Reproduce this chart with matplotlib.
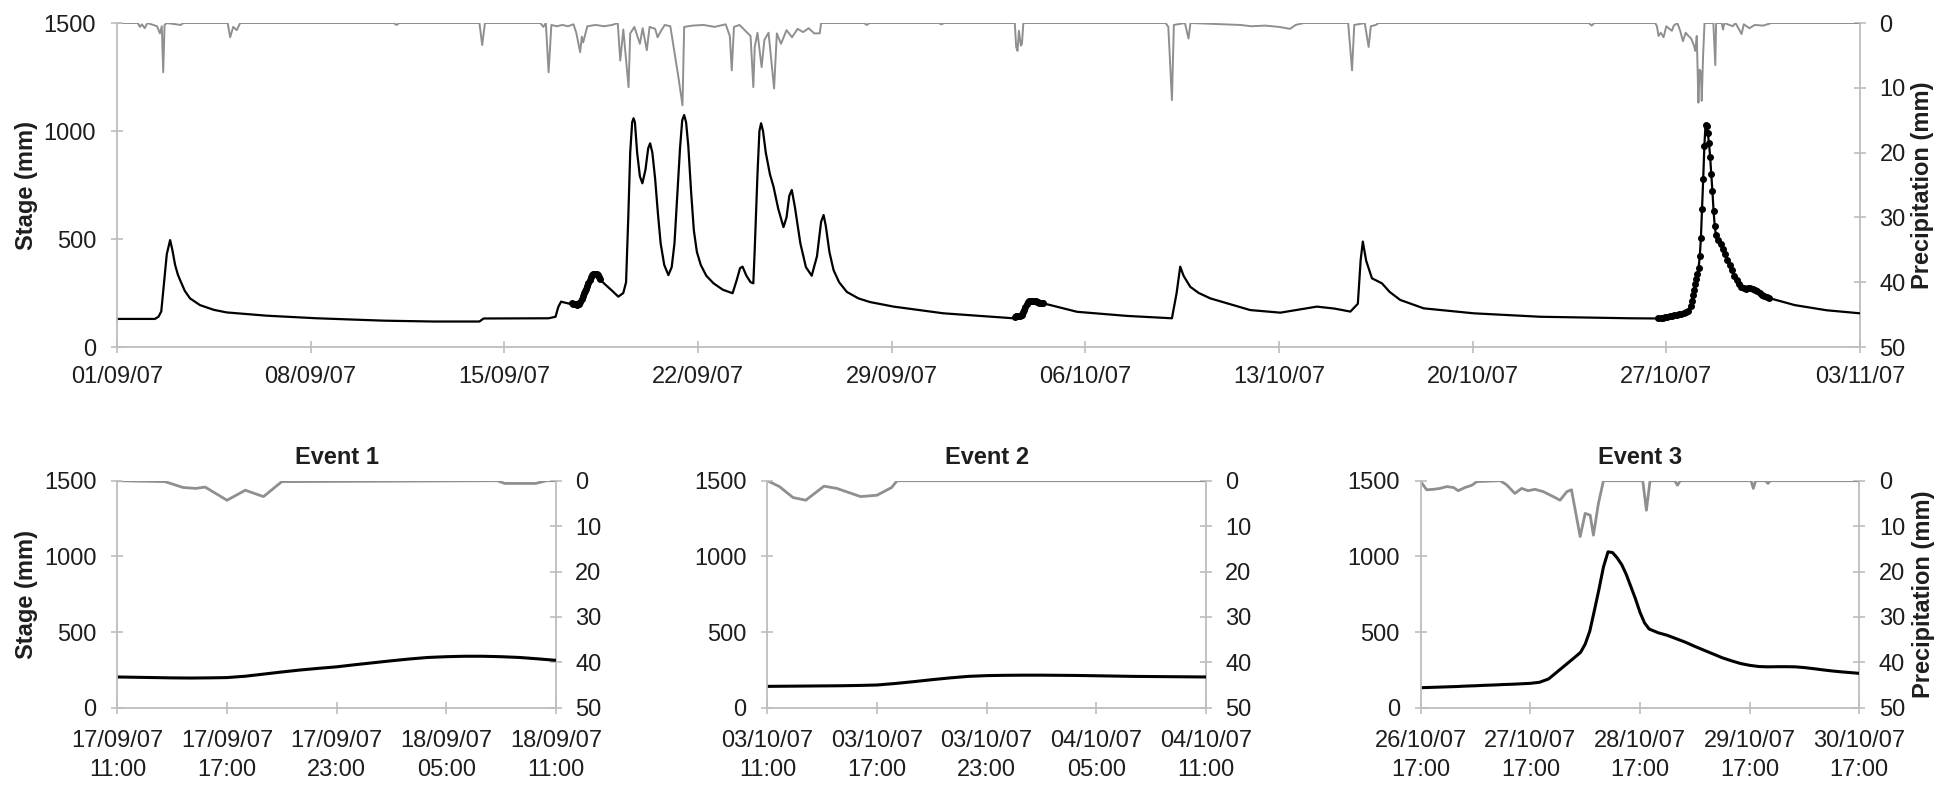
import matplotlib
matplotlib.use("Agg")
import matplotlib.pyplot as plt
import numpy as np

plt.rcParams['font.family'] = ['Liberation Sans', 'DejaVu Sans']

# ---------------- data ----------------
# main panel: time in days since 01/09/07 00:00
main_tick_days = [0, 7, 14, 21, 28, 35, 42, 49, 56, 63]
main_tick_labels = ['01/09/07', '08/09/07', '15/09/07', '22/09/07', '29/09/07',
                    '06/10/07', '13/10/07', '20/10/07', '27/10/07', '03/11/07']

stage_day = [0, 1.37, 1.5, 1.6, 1.7, 1.8, 1.92, 2.0, 2.1, 2.2, 2.28, 2.45, 2.64, 3.0, 3.5,
             3.97, 5.41, 7.22, 9.63, 11.43, 12.64, 13.1, 13.25, 15.6, 15.85, 15.95, 16.05,
             16.2, 16.37,
             17.64, 17.9, 18.12, 18.3, 18.4, 18.48, 18.55, 18.62, 18.67, 18.72, 18.8, 18.9,
             18.99, 19.1, 19.2, 19.27, 19.35, 19.45, 19.55, 19.65, 19.78, 19.93, 20.05,
             20.15, 20.25, 20.35, 20.43, 20.5, 20.57, 20.65, 20.75, 20.85, 20.96, 21.1,
             21.3, 21.56, 21.9, 22.25, 22.4, 22.52, 22.61, 22.75, 22.9, 23.0, 23.05, 23.15,
             23.22, 23.28, 23.35, 23.45, 23.6, 23.73, 23.9, 24.09, 24.2, 24.3, 24.39, 24.5,
             24.7, 24.9, 25.11, 25.3, 25.45, 25.54, 25.62, 25.75, 25.9, 26.1, 26.38, 26.8,
             27.22, 28.07, 29.87, 32.4,
             34.7, 36.5, 38.13, 38.3, 38.43, 38.55, 38.79, 39.1, 39.52, 40.96, 42.05,
             42.8, 43.37, 44.0, 44.58, 44.85, 44.95, 45.03, 45.15, 45.36, 45.72, 46.0,
             46.38, 47.23, 49.04, 51.45, 54.7,
             60.64, 61.8, 63]
stage_mm = [130, 130, 140, 165, 300, 430, 495, 450, 380, 335, 310, 260, 225, 194, 172,
            160, 145, 133, 122, 118, 118, 118, 132, 133, 140, 185, 210,
            205, 200,
            290, 260, 233, 250, 300, 600, 900, 1040, 1059, 1040, 900, 790,
            758, 820, 920, 943, 900, 780, 620, 480, 380, 333, 370,
            480, 700, 920, 1050, 1074, 1040, 930, 720, 540, 440, 380,
            330, 295, 265, 249, 310, 365, 372, 330, 300, 295, 450, 800,
            1000, 1036, 1000, 900, 800, 742, 640, 555, 600, 700, 727, 650,
            480, 370, 330, 420, 580, 611, 560, 440, 356, 300, 255, 225,
            208, 187, 156, 133,
            163, 144, 133, 250, 372, 330, 279, 250, 225, 171, 159,
            175, 187, 178, 164, 200, 400, 488, 400, 318, 295, 255,
            218, 179, 156, 140, 133,
            194, 170, 156]

rain_day = [0.0, 0.75, 0.83, 0.9, 1.0, 1.1, 1.45, 1.55, 1.62, 1.67, 1.72, 1.8, 2.3, 2.4,
            4.0, 4.09, 4.2, 4.33, 4.45, 10.0, 10.1, 10.2, 13.1, 13.2, 13.3,
            15.3, 15.41, 15.5, 15.6, 15.7, 15.9, 16.1, 16.3, 16.5, 16.6, 16.74, 16.8, 16.85,
            17.0, 17.3, 17.6, 17.9, 18.1, 18.19, 18.3, 18.49, 18.55, 18.7, 18.9, 19.0, 19.15,
            19.25, 19.45, 19.54, 19.65, 19.8, 20.0, 20.29, 20.44, 20.5, 20.8, 21.2, 21.6,
            22.0, 22.15, 22.22, 22.3, 22.5, 22.9, 23.0, 23.05, 23.15, 23.3, 23.4, 23.55,
            23.65, 23.75, 23.85, 24.0, 24.2, 24.4, 24.6, 24.8, 25.0, 25.2, 25.4, 25.45,
            27.0, 27.1, 27.2, 29.7, 29.8, 29.9,
            32.45, 32.5, 32.55, 32.6, 32.67, 32.71, 32.76,
            37.9, 38.0, 38.13, 38.2, 38.6, 38.73, 38.8,
            40.6, 41.0, 41.5, 42.0, 42.4, 42.6, 42.9,
            44.5, 44.64, 44.72, 45.1, 45.24, 45.32, 45.5, 45.6,
            53.2, 53.3, 53.4,
            55.6, 55.66, 55.72, 55.8, 55.9, 56.0, 56.2, 56.27, 56.4, 56.5, 56.6, 56.7, 56.8,
            56.9, 57.0, 57.05, 57.1, 57.16, 57.2, 57.25, 57.28, 57.33, 57.38, 57.7, 57.77,
            57.8, 58.0, 58.05, 58.1, 58.4, 58.5, 58.72, 58.8, 59.0, 59.2, 59.5, 59.8, 63.0]
rain_mm = [0, 0, 0.6, 0.2, 0.8, 0, 0.5, 1.6, 0.5, 7.6, 0.3, 0, 0.3, 0,
           0, 2.2, 0.6, 1.1, 0, 0, 0.3, 0, 0, 3.4, 0,
           0, 0.6, 0, 7.6, 0.3, 0.5, 0.3, 0.5, 0.2, 1.5, 4.5, 2.1, 3.0,
           0.5, 0.3, 0.5, 0.3, 0, 5.8, 1.0, 9.9, 1.6, 0.6, 3.2, 0.8, 4.2,
           0.6, 0.9, 2.2, 1.3, 0.3, 0.5, 8.3, 12.7, 0.6, 0.4, 0.3, 0.6,
           0.2, 2.0, 7.3, 0.6, 0.3, 2.0, 9.9, 3.7, 1.5, 6.8, 2.6, 1.5,
           5.8, 10.1, 1.6, 3.2, 1.1, 2.2, 0.9, 1.4, 0.8, 1.6, 1.6, 0,
           0, 0.3, 0, 0, 0.2, 0,
           0, 3.7, 4.3, 1.2, 3.5, 3.2, 0,
           0, 0.6, 11.9, 0.3, 0, 2.4, 0,
           0.3, 0.5, 0.4, 0.6, 0.9, 0.3, 0,
           0, 7.3, 0.3, 0, 3.7, 0.5, 0.3, 0,
           0, 0.4, 0,
           0, 0.5, 2.0, 1.5, 2.2, 0.5, 1.2, 0.4, 0, 1.2, 2.8, 1.5, 2.0,
           2.4, 3.5, 4.3, 2.0, 12.3, 7.2, 7.5, 12.0, 5.0, 0, 0, 6.5,
           0, 0, 1.0, 0, 0.5, 0, 1.7, 0.2, 0.8, 0.3, 0.4, 0, 0]

# Event 1: hours since 17/09/07 11:00
ev1_start_day = 16 + 11 / 24
ev1_hour = list(range(25))
ev1_stage = [203, 201, 199, 197, 196, 197, 199, 208, 222, 236, 249, 260, 270,
             284, 297, 310, 322, 332, 337, 340, 340, 337, 332, 323, 313]
ev1_rain_hour = [0, 2.6, 3.6, 4.3, 4.8, 6.0, 7.0, 8.0, 9.0, 20.8, 21.2, 22.9, 23.5, 24]
ev1_rain = [0, 0.2, 1.5, 1.7, 1.4, 4.3, 2.1, 3.5, 0.2, 0, 0.6, 0.6, 0, 0]
ev1_ticks = [0, 6, 12, 18, 24]
ev1_labels = ['17/09/07\n11:00', '17/09/07\n17:00', '17/09/07\n23:00',
              '18/09/07\n05:00', '18/09/07\n11:00']

# Event 2: hours since 03/10/07 11:00
ev2_start_day = 32 + 11 / 24
ev2_hour = list(range(25))
ev2_stage = [141, 142, 143, 144, 145, 147, 150, 160, 172, 185, 197, 207, 212,
             214, 215, 215, 214, 213, 211, 209, 207, 206, 205, 204, 203]
ev2_rain_hour = [0, 0.66, 1.4, 2.1, 3.1, 3.8, 5.1, 6.0, 6.8, 7.1, 24]
ev2_rain = [0, 1.3, 3.7, 4.3, 1.2, 1.7, 3.5, 3.2, 1.5, 0, 0]
ev2_ticks = [0, 6, 12, 18, 24]
ev2_labels = ['03/10/07\n11:00', '03/10/07\n17:00', '03/10/07\n23:00',
              '04/10/07\n05:00', '04/10/07\n11:00']

# Event 3: hours since 26/10/07 17:00
ev3_start_day = 55 + 17 / 24
ev3_hour = [0, 2, 4, 6, 8, 10, 12, 14, 16, 18, 20, 22, 24, 26, 28, 29, 30, 31, 32, 33,
            34, 35, 36, 37, 38, 39, 40, 41, 42, 43, 44, 45, 46, 47, 48, 49, 50, 52, 54,
            56, 58, 60, 62, 64, 66, 68, 70, 72, 74, 76, 78, 80, 82, 84, 86, 88, 90, 92,
            94, 96]
ev3_stage = [132, 134, 136, 138, 140, 143, 145, 148, 150, 153, 155, 158, 161, 168, 190,
             215, 240, 265, 290, 315, 340, 366, 420, 505, 640, 780, 930, 1030, 1025, 990,
             945, 880, 800, 720, 630, 560, 520, 495, 478, 455, 432, 405, 380, 355, 330,
             310, 292, 280, 272, 270, 271, 271, 270, 265, 258, 250, 243, 237, 232, 227]
ev3_rain_hour = [0, 1.3, 2.8, 4.2, 5.7, 7.2, 8.2, 9.7, 11.2, 12.3, 17.4, 18.8, 20.6, 22.1,
                 23.5, 25.0, 26.8, 29.0, 30.5, 32.0, 33.0, 34.9, 36.0, 37.1, 37.8, 38.9,
                 40.0, 48.6, 49.4, 50.2, 55.6, 56.2, 56.8, 72.3, 72.8, 73.3, 75.5, 76.0,
                 76.5, 96]
ev3_rain = [0.2, 2.0, 1.9, 1.7, 1.3, 1.5, 2.2, 1.5, 1.0, 0.2, 0.0, 0.9, 2.8, 1.7, 2.2,
            1.9, 2.4, 3.5, 4.3, 2.4, 2.0, 12.3, 7.2, 7.6, 12.0, 5.0, 0.0, 0.0, 6.5, 0.0,
            0.0, 1.0, 0.0, 0.0, 1.7, 0.0, 0.0, 0.6, 0.0, 0.0]
ev3_ticks = [0, 24, 48, 72, 96]
ev3_labels = ['26/10/07\n17:00', '27/10/07\n17:00', '28/10/07\n17:00',
              '29/10/07\n17:00', '30/10/07\n17:00']

# ---------------- style ----------------
SPINE = '#bdbdbd'
TXT = '#1e1e1e'
RAIN_C = '#8f8f8f'
FS = 17

fig = plt.figure(figsize=(19.49, 7.99), dpi=100)


def make_panel(rect, xpad):
    ax = fig.add_axes(rect)
    ax2 = ax.twinx()
    ax.set_zorder(ax2.get_zorder() + 1)
    ax.patch.set_visible(False)
    for a in (ax, ax2):
        for s in a.spines.values():
            s.set_color(SPINE)
            s.set_linewidth(1.3)
        a.spines['top'].set_visible(False)
    ax.spines['right'].set_visible(False)
    ax2.spines['left'].set_visible(False)
    ax2.spines['bottom'].set_visible(False)
    ax.set_ylim(0, 1500)
    ax.set_yticks([0, 500, 1000, 1500])
    ax2.set_ylim(50, 0)
    ax2.set_yticks([0, 10, 20, 30, 40, 50])
    ax.tick_params(axis='y', direction='inout', length=8, width=1.2, color=SPINE,
                   labelsize=FS, labelcolor=TXT, pad=11)
    ax.tick_params(axis='x', direction='inout', length=8, width=1.2, color=SPINE,
                   labelsize=FS, labelcolor=TXT, pad=xpad)
    ax2.tick_params(axis='y', direction='inout', length=8, width=1.2, color=SPINE,
                    labelsize=FS, labelcolor=TXT, pad=10)
    return ax, ax2


# ---- main panel ----
ax, ax2 = make_panel([0.06003, 0.5657, 0.8943, 0.4055], 10)
ax2.plot(rain_day, rain_mm, color=RAIN_C, lw=1.4, solid_joinstyle='round')

ev_days = [[ev1_start_day + h / 24 for h in ev1_hour],
           [ev2_start_day + h / 24 for h in ev2_hour],
           [ev3_start_day + h / 24 for h in ev3_hour]]
ev_stages = [ev1_stage, ev2_stage, ev3_stage]
all_d = list(stage_day)
all_s = list(stage_mm)
for dd, ss in zip(ev_days, ev_stages):
    all_d += dd
    all_s += ss
order = np.argsort(all_d)
ax.plot(np.array(all_d)[order], np.array(all_s)[order], color='black', lw=1.6,
        solid_joinstyle='round')
for dd, ss in zip(ev_days, ev_stages):
    ax.plot(dd, ss, linestyle='none', marker='o', ms=4, color='black')

ax.set_xlim(0, 63)
ax.set_xticks(main_tick_days)
ax.set_xticklabels(main_tick_labels)
ax.set_ylabel('Stage (mm)', fontsize=FS, fontweight='bold', color=TXT)
ax.yaxis.set_label_coords(-0.0455, 0.5)
ax2.set_ylabel('Precipitation (mm)', fontsize=FS, fontweight='bold', color=TXT)
ax2.yaxis.set_label_coords(1.0295, 0.5)

# ---- event panels ----
events = [
    ([0.06024, 0.11427, 0.22494, 0.2841], 'Event 1', ev1_hour, ev1_stage,
     ev1_rain_hour, ev1_rain, ev1_ticks, ev1_labels),
    ([0.39374, 0.11427, 0.22494, 0.2841], 'Event 2', ev2_hour, ev2_stage,
     ev2_rain_hour, ev2_rain, ev2_ticks, ev2_labels),
    ([0.72894, 0.11427, 0.22504, 0.2841], 'Event 3', ev3_hour, ev3_stage,
     ev3_rain_hour, ev3_rain, ev3_ticks, ev3_labels),
]
for i, (rect, title, hh, ss, rh, rr, tks, tls) in enumerate(events):
    a, a2 = make_panel(rect, 12)
    a2.plot(rh, rr, color=RAIN_C, lw=2.0, solid_joinstyle='round')
    a.plot(hh, ss, color='black', lw=2.2, solid_joinstyle='round')
    a.set_xlim(tks[0], tks[-1])
    a.set_xticks(tks)
    a.set_xticklabels(tls, linespacing=1.4)
    a.set_title(title, fontsize=FS, fontweight='bold', color=TXT, pad=12)
    if i == 0:
        a.set_ylabel('Stage (mm)', fontsize=FS, fontweight='bold', color=TXT)
        a.yaxis.set_label_coords(-0.181, 0.5)
    if i == 2:
        a2.set_ylabel('Precipitation (mm)', fontsize=FS, fontweight='bold', color=TXT)
        a2.yaxis.set_label_coords(1.12, 0.5)

fig.savefig('out.png', dpi=100)
